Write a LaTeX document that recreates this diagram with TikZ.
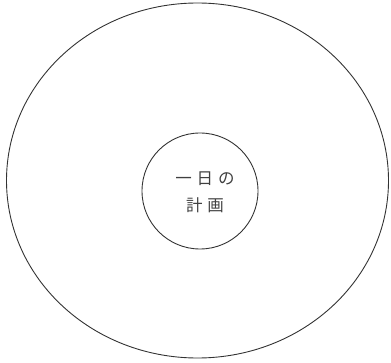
\documentclass[tikz,border=0pt]{standalone}
\usepackage{fontspec}
\newfontfamily\cjk[LetterSpace=30]{Noto Sans CJK JP}
\begin{document}
\begin{tikzpicture}[x=1pt,y=1pt,
  ring/.style={draw=black!80, line width=0.9pt},
  label/.style={font=\cjk\fontsize{16.5}{27}\selectfont, text=black!75, align=center}]
\useasboundingbox (0,0) rectangle (391,362);
\draw[ring] (197.5,181.5) ellipse [x radius=191, y radius=177.5];
\node[ring, circle, minimum size=116pt, inner sep=0pt] (plan) at (200,171) {};
\node[label] (txt) at (205,169.5) {一日の\\計画};
\end{tikzpicture}
\end{document}
